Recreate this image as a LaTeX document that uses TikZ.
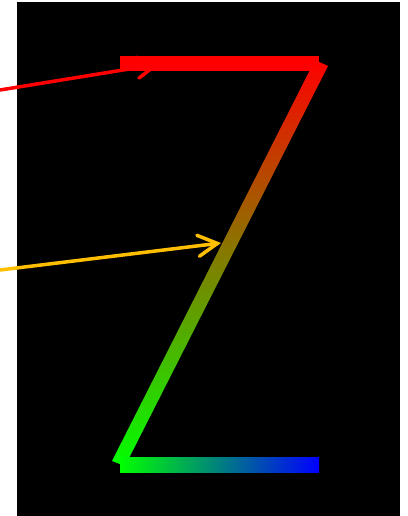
\documentclass[tikz,border=0pt]{standalone}
\usepackage{xcolor}
\definecolor{zred}{RGB}{255,0,0}
\definecolor{zgreen}{RGB}{0,255,0}
\definecolor{zblue}{RGB}{0,0,255}
\definecolor{pointer}{RGB}{255,190,0}
\usepackage{tikz}
\usetikzlibrary{arrows.meta,calc}
\tikzset{
  z_bar/.style={draw=none},
  arr/.style={-{Straight Barb[length=11pt,width=12pt,line cap=round]},
    line width=2pt,line cap=round},
}

\begin{document}
\begin{tikzpicture}[x=0.02cm,y=-0.02cm]
  \useasboundingbox (0,0) rectangle (408,516);
  \fill[black] (17,2) rectangle (400,516);

  % corners of the Z
  \coordinate (tl) at (120,56);
  \coordinate (tr) at (319,71);
  \coordinate (bl) at (120,457);
  \coordinate (br) at (319,472);

  % top bar
  \fill[z_bar,zred] (tl) rectangle (tr);
  % diagonal
  \shade[z_bar,top color=zred,bottom color=zgreen]
    (315,60) -- (328,66) -- (125,466) -- (112,461) -- cycle;
  % bottom bar
  \shade[z_bar,left color=zgreen,right color=zblue] (bl) rectangle (br);

  % pointers
  \coordinate (redfrom) at (0,90);
  \coordinate (redtip) at (160,64);
  \coordinate (yelfrom) at (0,270);
  \coordinate (yeltip) at (221,243);
  \draw[arr,zred] (redfrom) -- (redtip);
  \draw[arr,pointer] (yelfrom) -- (yeltip);
\end{tikzpicture}
\end{document}
